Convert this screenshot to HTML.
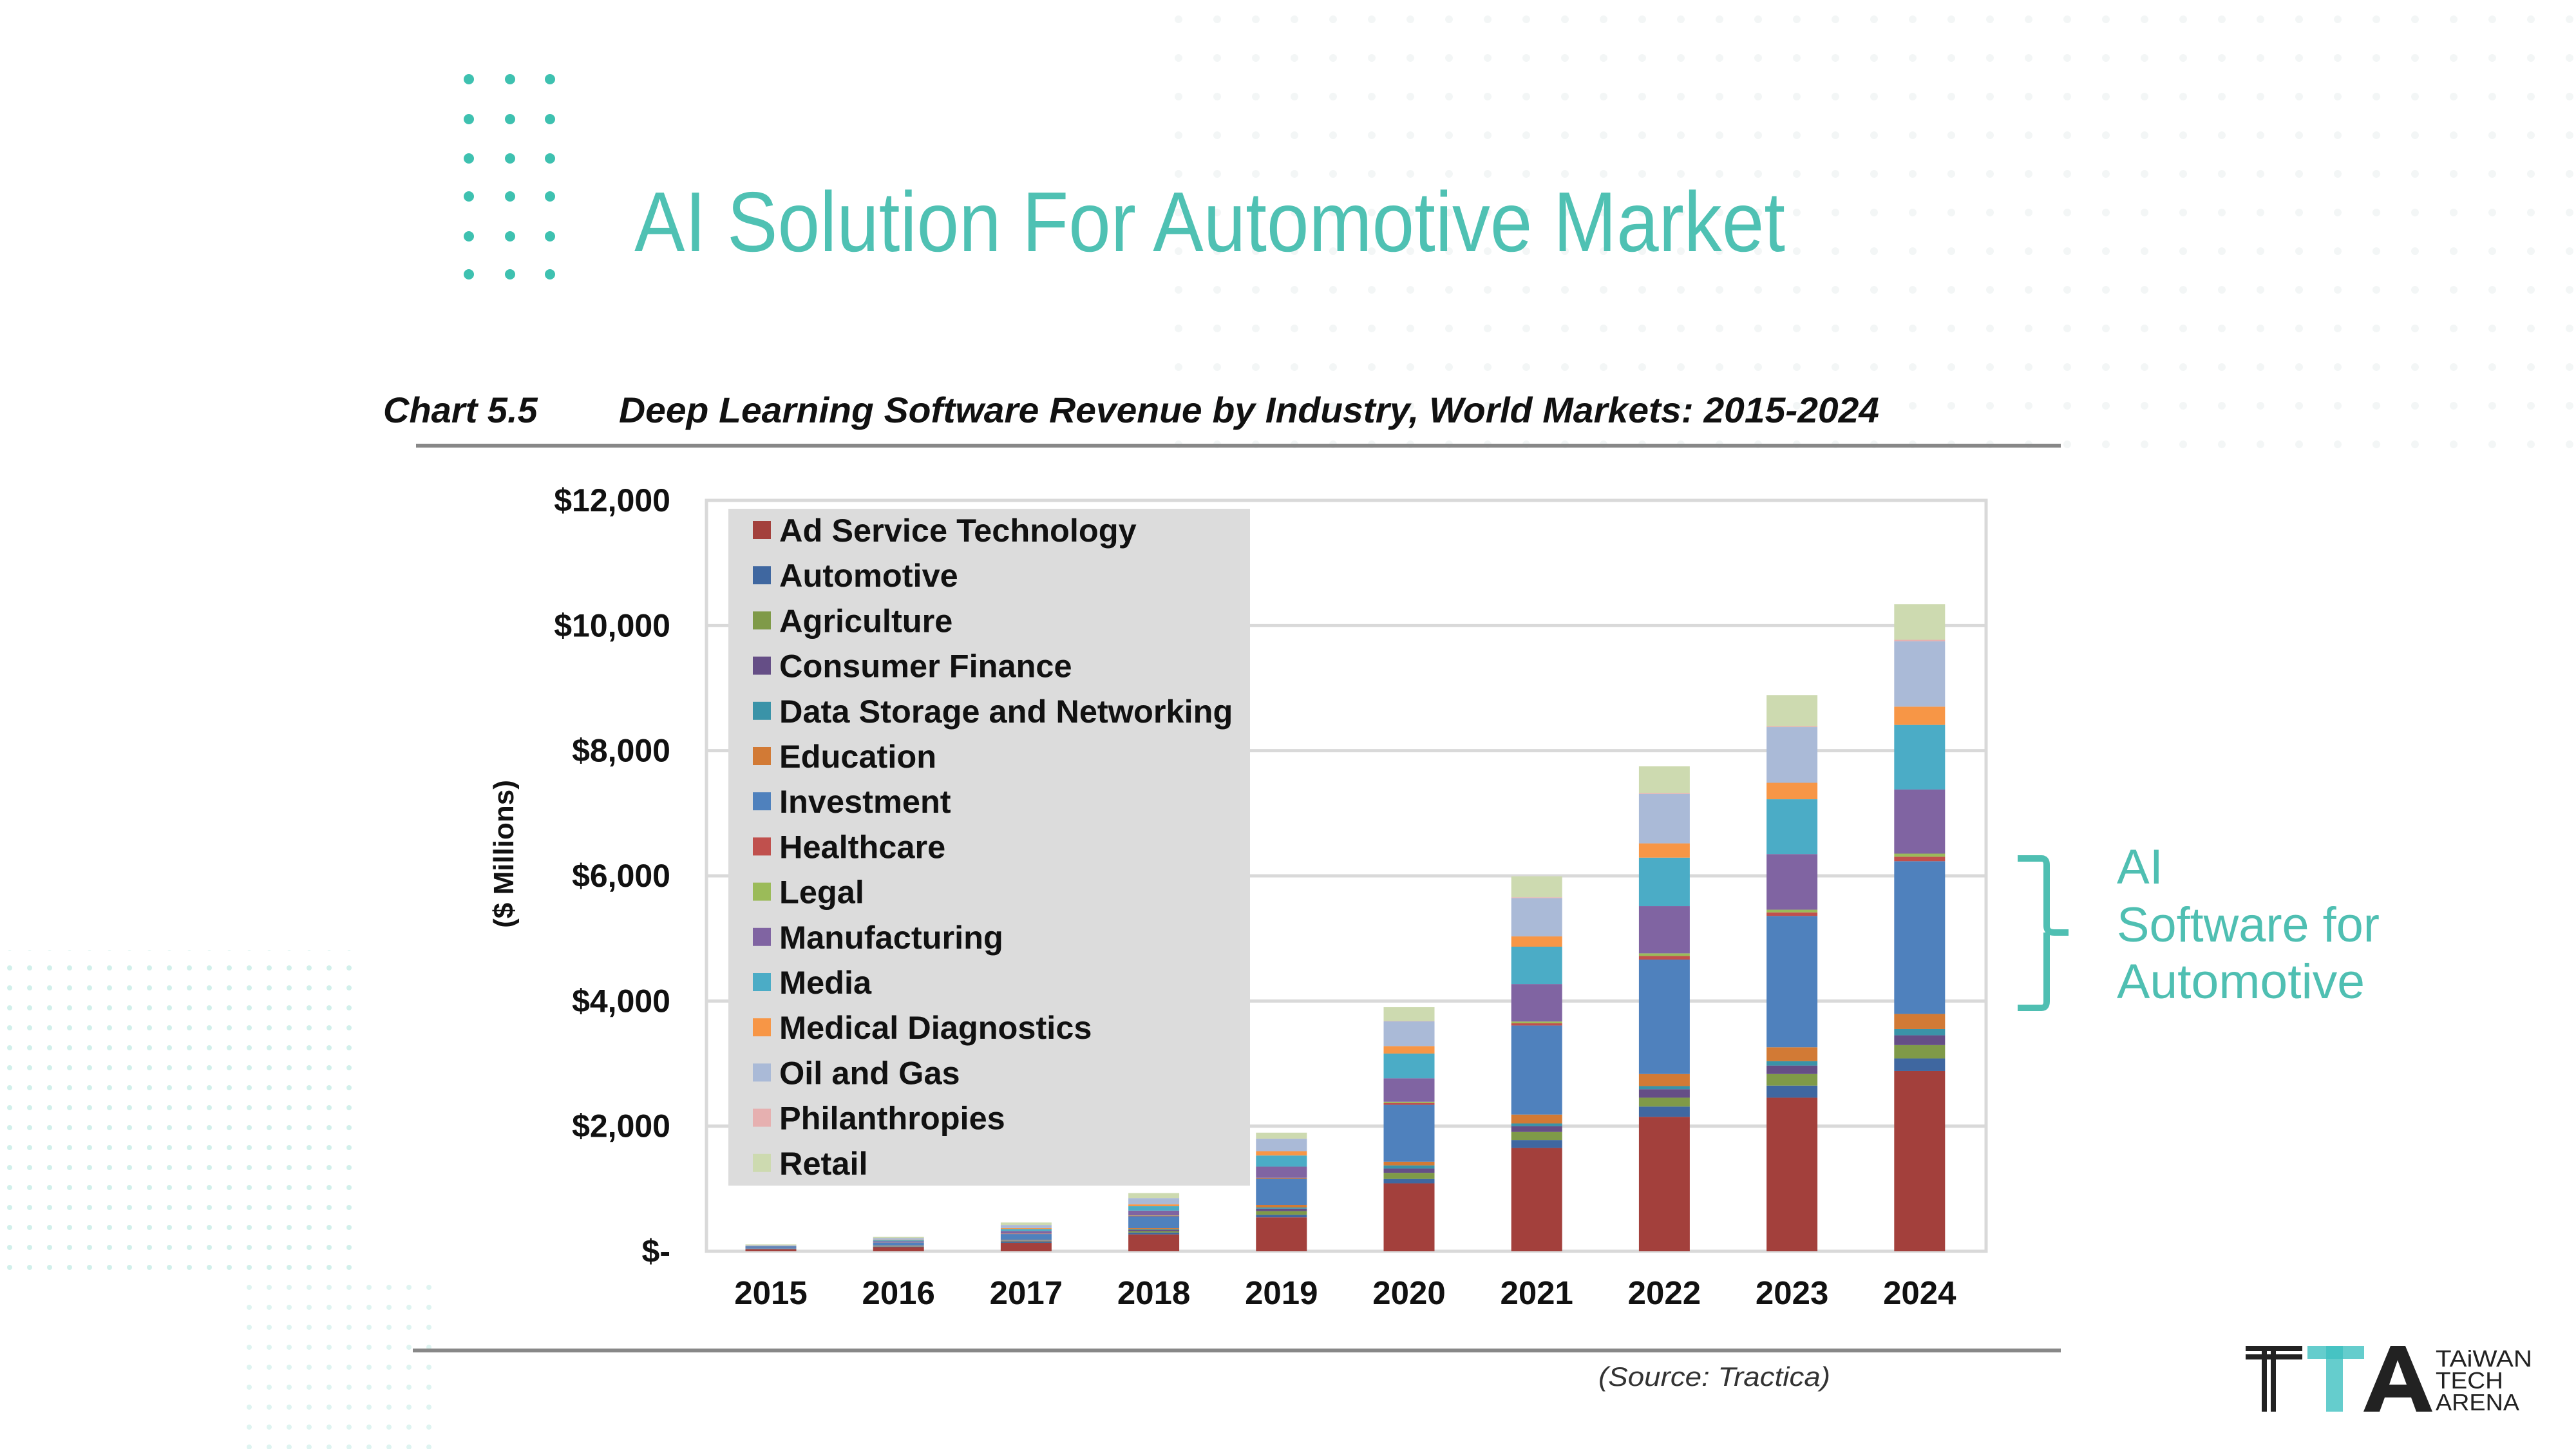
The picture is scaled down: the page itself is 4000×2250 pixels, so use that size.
<!DOCTYPE html>
<html><head><meta charset="utf-8"><style>
html,body{margin:0;padding:0;background:#fff}
svg{display:block}
text{font-family:"Liberation Sans",Arial,sans-serif}
</style></head><body>
<svg id="s" width="4000" height="2250" viewBox="0 0 4000 2250" xmlns="http://www.w3.org/2000/svg">
<defs>
<pattern id="pt" width="31" height="31" patternUnits="userSpaceOnUse"><circle cx="15" cy="15" r="4" fill="#bfe9e3"/></pattern>
<pattern id="pg" width="60" height="60" patternUnits="userSpaceOnUse"><circle cx="30" cy="30" r="6" fill="#f3f6f6"/></pattern>
</defs>
<rect width="4000" height="2250" fill="#fff"/>
<rect x="1800" y="0" width="2200" height="700" fill="url(#pg)"/>
<rect x="0" y="1475" width="560" height="520" fill="url(#pt)" opacity="0.7"/>
<rect x="370" y="1990" width="320" height="260" fill="url(#pt)" opacity="0.5"/>
<g fill="#3ec1b0" id="dots"></g>
<text x="985" y="390" font-size="132" fill="#4fc1b3" textLength="1787" lengthAdjust="spacingAndGlyphs">AI Solution For Automotive Market</text>
<text x="595" y="656" font-size="56" font-weight="bold" font-style="italic" fill="#111">Chart 5.5</text>
<text x="961" y="656" font-size="56" font-weight="bold" font-style="italic" fill="#111" textLength="1957" lengthAdjust="spacingAndGlyphs">Deep Learning Software Revenue by Industry, World Markets: 2015-2024</text>
<line x1="646" y1="692" x2="3200" y2="692" stroke="#888" stroke-width="6"/>
<line x1="641" y1="2097" x2="3200" y2="2097" stroke="#888" stroke-width="6"/>
<rect x="1097" y="777" width="1987" height="1166" fill="none" stroke="#d9d9d9" stroke-width="5"/>
<g id="grid"></g>
<g id="bars"></g>
<rect x="1131" y="790" width="810" height="1051" fill="#dcdcdc"/>
<g id="leg"></g>
<text transform="translate(797,1326) rotate(-90)" font-size="44" font-weight="bold" text-anchor="middle" fill="#111">($ Millions)</text>
<text x="2482" y="2152" font-size="42" font-style="italic" fill="#333" textLength="360" lengthAdjust="spacingAndGlyphs">(Source: Tractica)</text>
<path d="M3133,1333 L3170,1333 Q3178,1333 3178,1343 L3178,1438 Q3178,1448 3190,1448 L3212,1448 M3178,1448 Q3178,1458 3178,1468 L3178,1555 Q3178,1565 3170,1565 L3133,1565" fill="none" stroke="#4fbfb2" stroke-width="10"/>
<g font-size="76" fill="#4fbfb2">
<text x="3287" y="1372">AI</text>
<text x="3287" y="1462" textLength="408" lengthAdjust="spacingAndGlyphs">Software for</text>
<text x="3287" y="1550" textLength="385" lengthAdjust="spacingAndGlyphs">Automotive</text>
</g>
<g>
<rect x="3487" y="2090" width="88" height="8" fill="#222"/><rect x="3487" y="2103" width="88" height="8" fill="#222"/>
<rect x="3512" y="2090" width="8" height="102" fill="#222"/><rect x="3526" y="2090" width="8" height="102" fill="#222"/>
<rect x="3583" y="2090" width="88" height="20" fill="#3ec1c1" opacity="0.8"/>
<rect x="3612" y="2090" width="26" height="102" fill="#3ec1c1" opacity="0.8"/>
<path d="M3670,2192 L3712,2090 L3735,2090 L3777,2192 L3752,2192 L3744,2170 L3703,2170 L3695,2192 Z M3710,2150 L3737,2150 L3723,2112 Z" fill="#222" fill-rule="evenodd"/>
<g font-size="36" fill="#222"><text x="3782" y="2122" textLength="150" lengthAdjust="spacingAndGlyphs">TAiWAN</text><text x="3782" y="2156" textLength="105" lengthAdjust="spacingAndGlyphs">TECH</text><text x="3782" y="2190" textLength="130" lengthAdjust="spacingAndGlyphs">ARENA</text></g>
</g>
</svg>
<script>
var NS="http://www.w3.org/2000/svg",s=document.getElementById('s');
function el(p,t,a,txt){var e=document.createElementNS(NS,t);for(var k in a)e.setAttribute(k,a[k]);if(txt)e.textContent=txt;document.getElementById(p).appendChild(e);return e;}
[728,792,854].forEach(function(x){[123,185,246,305,367,426].forEach(function(y){el('dots','circle',{cx:x,cy:y,r:8});});});
var z=1943,k=(1943-777)/12000;
var yl=['$-','$2,000','$4,000','$6,000','$8,000','$10,000','$12,000'];
for(var i=0;i<7;i++){var y=z-i*2000*k;if(i>0&&i<6)el('grid','line',{x1:1097,x2:3084,y1:y,y2:y,stroke:'#d9d9d9','stroke-width':5});
el('grid','text',{x:1041,y:y+17,'font-size':50,'font-weight':'bold','text-anchor':'end',fill:'#111'},yl[i]);}
var cols=['#a3403c','#3f67a0','#7f9a48','#654e86','#3a93a8','#d27a35','#4f81bd','#c0504d','#9bbb59','#8064a2','#4bacc6','#f79646','#aabad7','#e6b0b0','#cddab0'];
var names=['Ad Service Technology','Automotive','Agriculture','Consumer Finance','Data Storage and Networking','Education','Investment','Healthcare','Legal','Manufacturing','Media','Medical Diagnostics','Oil and Gas','Philanthropies','Retail'];
var b18=[270,300,320,340,350,370,560,570,575,650,720,750,850,852,930];
function sc(f){return b18.map(function(v){return v*f;});}
var data=[sc(110/930),sc(230/930),sc(460/930),b18,
[543,583,642,681,701,741,1156,1168,1175,1353,1531,1600,1798,1800,1896],
[1086,1156,1254,1323,1373,1432,2341,2370,2390,2765,3160,3279,3674,3680,3901],
[1651,1779,1907,2000,2043,2185,3608,3644,3672,4270,4868,5032,5644,5658,5993],
[2149,2313,2455,2591,2640,2833,4662,4719,4761,5516,6291,6519,7309,7323,7750],
[2455,2648,2833,2968,3039,3260,5359,5416,5459,6348,7224,7487,8377,8391,8889],
[2882,3082,3295,3452,3551,3793,6234,6306,6355,7380,8412,8704,9750,9772,10341]];
for(var j=0;j<10;j++){var cx=1197+j*198.2,prev=0;
for(var i=0;i<15;i++){var v=data[j][i];el('bars','rect',{x:cx-39.5,width:79,y:z-v*k,height:Math.max(0,(v-prev)*k),fill:cols[i]});prev=v;}
el('bars','text',{x:cx,y:2025,'font-size':51,'font-weight':'bold','text-anchor':'middle',fill:'#111'},String(2015+j));}
for(var i=0;i<15;i++){var cy=823+i*70.2;el('leg','rect',{x:1169,y:cy-14,width:28,height:28,fill:cols[i]});
el('leg','text',{x:1210,y:cy+18,'font-size':50.5,'font-weight':'bold',fill:'#111'},names[i]);}
</script>
</body></html>
